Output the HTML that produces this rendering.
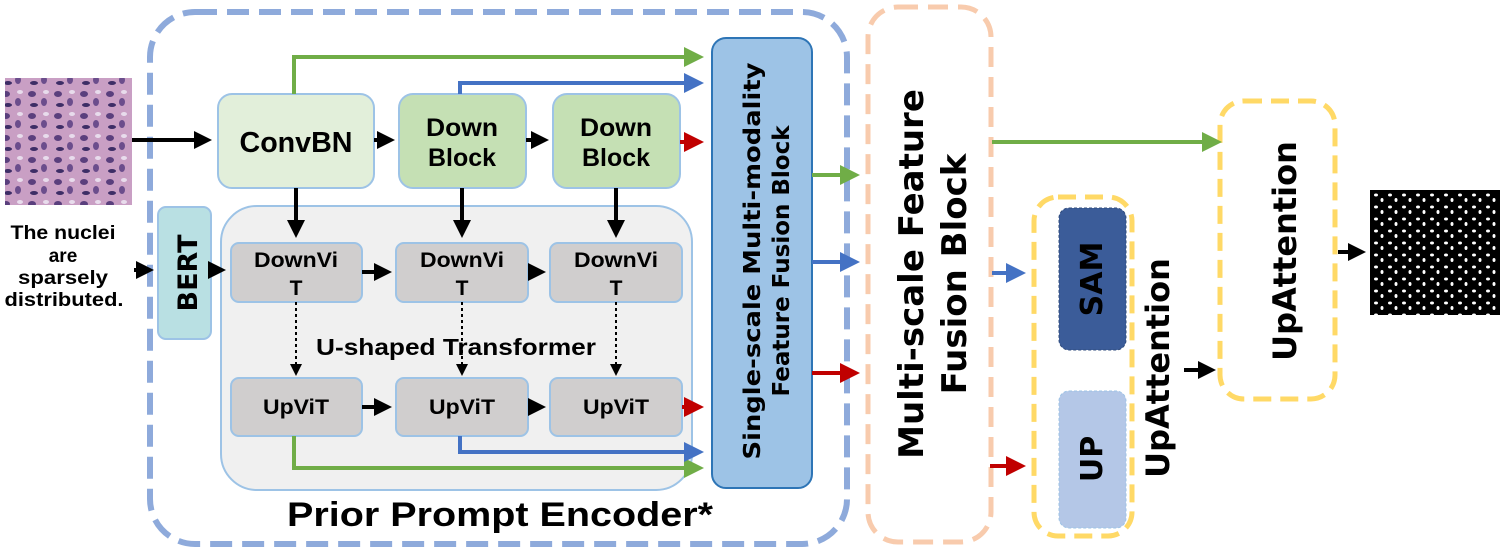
<!DOCTYPE html>
<html><head><meta charset="utf-8"><style>html,body{margin:0;padding:0;background:#fff}svg{display:block}</style></head><body>
<svg width="1504" height="558" viewBox="0 0 1504 558" xmlns="http://www.w3.org/2000/svg" font-family="'DejaVu Sans','Liberation Sans',sans-serif" font-weight="bold">
<defs>
<marker id="ak" markerWidth="4.5" markerHeight="4.5" refX="3.5" refY="2.25" orient="auto" markerUnits="strokeWidth"><path d="M0,0L4.5,2.25L0,4.5z" fill="#000"/></marker>
<marker id="ag" markerWidth="5" markerHeight="5" refX="4" refY="2.5" orient="auto" markerUnits="strokeWidth"><path d="M0,0L5,2.5L0,5z" fill="#70ad47"/></marker>
<marker id="ab" markerWidth="5" markerHeight="5" refX="4" refY="2.5" orient="auto" markerUnits="strokeWidth"><path d="M0,0L5,2.5L0,5z" fill="#4472c4"/></marker>
<marker id="ar" markerWidth="5" markerHeight="5" refX="4" refY="2.5" orient="auto" markerUnits="strokeWidth"><path d="M0,0L5,2.5L0,5z" fill="#c00000"/></marker>
<marker id="as" markerWidth="6" markerHeight="6" refX="4" refY="3" orient="auto" markerUnits="strokeWidth"><path d="M0,0L6,3L0,6z" fill="#000"/></marker>
<pattern id="tis" width="26" height="22" patternUnits="userSpaceOnUse"><rect width="26" height="22" fill="#c99fc4"/><ellipse cx="6" cy="6" rx="4" ry="3" fill="#5a3f7d"/><ellipse cx="18" cy="14" rx="3" ry="4" fill="#6b4d8c"/><ellipse cx="20" cy="4" rx="3" ry="2" fill="#e8dcec"/><ellipse cx="8" cy="17" rx="4" ry="2" fill="#3d2d66"/></pattern>
<pattern id="nuc" width="14" height="12" patternUnits="userSpaceOnUse"><rect width="14" height="12" fill="#000"/><ellipse cx="4" cy="3" rx="2" ry="1.5" fill="#fff"/><ellipse cx="10" cy="8" rx="1.5" ry="2" fill="#fff"/></pattern>
</defs>

<rect x="150" y="12" width="697" height="532" rx="45" fill="none" stroke="#8eaadb" stroke-width="6" stroke-dasharray="22,10"/>
<rect x="868" y="7" width="123" height="535" rx="30" fill="none" stroke="#f8cbad" stroke-width="5" stroke-dasharray="20,10"/>
<rect x="1034" y="197" width="98" height="339" rx="24" fill="none" stroke="#ffd966" stroke-width="5" stroke-dasharray="18,9"/>
<rect x="1220" y="101" width="115" height="298" rx="24" fill="none" stroke="#ffd966" stroke-width="5" stroke-dasharray="18,9"/>

<rect x="5" y="78" width="127" height="127" fill="url(#tis)"/>
<rect x="1370" y="190" width="130" height="125" fill="url(#nuc)"/>

<rect x="221" y="206" width="471" height="284" rx="36" fill="#f0f0f0" stroke="#9dc3e6" stroke-width="2"/>

<rect x="218" y="94" width="156" height="94" rx="14" fill="#e2efda" stroke="#9dc3e6" stroke-width="2"/>
<rect x="399" y="94" width="127" height="94" rx="14" fill="#c5e0b4" stroke="#9dc3e6" stroke-width="2"/>
<rect x="553" y="94" width="127" height="94" rx="14" fill="#c5e0b4" stroke="#9dc3e6" stroke-width="2"/>
<g font-family="'Liberation Sans',sans-serif" text-anchor="middle">
<text x="296" y="152" font-size="29" textLength="113" lengthAdjust="spacingAndGlyphs">ConvBN</text>
<text x="462" y="136" font-size="25" textLength="72" lengthAdjust="spacingAndGlyphs">Down</text>
<text x="462" y="166" font-size="25" textLength="68" lengthAdjust="spacingAndGlyphs">Block</text>
<text x="616" y="136" font-size="25" textLength="72" lengthAdjust="spacingAndGlyphs">Down</text>
<text x="616" y="166" font-size="25" textLength="68" lengthAdjust="spacingAndGlyphs">Block</text>
</g>

<rect x="158" y="207" width="53" height="132" rx="8" fill="#b9e0e3" stroke="#9dc3e6" stroke-width="2"/>
<text transform="translate(197,273) rotate(-90)" font-size="27" text-anchor="middle">BERT</text>

<g fill="#d0cece" stroke="#9dc3e6" stroke-width="2">
<rect x="231" y="243" width="131" height="59" rx="8"/><rect x="396" y="243" width="132" height="59" rx="8"/><rect x="550" y="243" width="132" height="59" rx="8"/>
<rect x="231" y="378" width="131" height="58" rx="8"/><rect x="396" y="378" width="132" height="58" rx="8"/><rect x="550" y="378" width="132" height="58" rx="8"/>
</g>
<g font-family="'Liberation Sans',sans-serif" font-size="21" text-anchor="middle">
<text x="296" y="267" textLength="84" lengthAdjust="spacingAndGlyphs">DownVi</text><text x="296" y="295">T</text>
<text x="462" y="267" textLength="84" lengthAdjust="spacingAndGlyphs">DownVi</text><text x="462" y="295">T</text>
<text x="616" y="267" textLength="84" lengthAdjust="spacingAndGlyphs">DownVi</text><text x="616" y="295">T</text>
<text x="296" y="414" textLength="66" lengthAdjust="spacingAndGlyphs">UpViT</text><text x="462" y="414" textLength="66" lengthAdjust="spacingAndGlyphs">UpViT</text><text x="616" y="414" textLength="66" lengthAdjust="spacingAndGlyphs">UpViT</text>
<text x="456" y="355" font-size="23" textLength="280" lengthAdjust="spacingAndGlyphs">U-shaped Transformer</text>
<text x="500" y="526" font-size="34" textLength="426" lengthAdjust="spacingAndGlyphs">Prior Prompt Encoder*</text>
<g font-size="19">
<text x="63" y="239" textLength="105" lengthAdjust="spacingAndGlyphs">The nuclei</text><text x="63" y="262">are</text><text x="63" y="284" textLength="90" lengthAdjust="spacingAndGlyphs">sparsely</text><text x="64" y="306" textLength="119" lengthAdjust="spacingAndGlyphs">distributed.</text>
</g>
</g>

<rect x="712" y="38" width="100" height="450" rx="14" fill="#9dc3e6" stroke="#2e75b6" stroke-width="2"/>
<text transform="translate(760,261) rotate(-90)" font-size="23" text-anchor="middle" textLength="397" lengthAdjust="spacingAndGlyphs">Single-scale Multi-modality</text>
<text transform="translate(789,261) rotate(-90)" font-size="23" text-anchor="middle">Feature Fusion Block</text>

<text transform="translate(923,274) rotate(-90)" font-size="34" text-anchor="middle">Multi-scale Feature</text>
<text transform="translate(966,274) rotate(-90)" font-size="34" text-anchor="middle">Fusion Block</text>

<rect x="1059" y="208" width="67" height="142" rx="10" fill="#3b5c99" stroke="#2f4b7c" stroke-width="1" stroke-dasharray="3,2"/>
<text transform="translate(1102,279) rotate(-90)" font-size="30" text-anchor="middle">SAM</text>
<rect x="1059" y="391" width="67" height="137" rx="10" fill="#b4c7e7" stroke="#9dc3e6" stroke-width="1" stroke-dasharray="3,2"/>
<text transform="translate(1102,459) rotate(-90)" font-size="30" text-anchor="middle">UP</text>
<text transform="translate(1169,368) rotate(-90)" font-size="32" text-anchor="middle">UpAttention</text>
<text transform="translate(1296,251) rotate(-90)" font-size="32" text-anchor="middle">UpAttention</text>

<g stroke="#000" stroke-width="4" fill="none" marker-end="url(#ak)">
<path d="M132,140H208"/><path d="M374,140H391"/><path d="M526,140H545"/>
<path d="M296,188V234"/><path d="M462,188V234"/><path d="M616,188V234"/>
<path d="M134,270H150"/><path d="M211,270H222"/>
<path d="M362,272H388"/><path d="M528,272H542"/>
<path d="M362,407H388"/><path d="M528,407H542"/>
<path d="M1184,370H1212"/><path d="M1338,252H1362"/>
</g>
<g stroke="#000" stroke-width="2" fill="none" stroke-dasharray="3,3" marker-end="url(#as)">
<path d="M296,302V372"/><path d="M462,302V372"/><path d="M616,302V372"/>
</g>
<g stroke="#70ad47" stroke-width="4" fill="none" marker-end="url(#ag)">
<path d="M294,94V57H700"/><path d="M294,436V468H700"/><path d="M812,175H856"/><path d="M992,142H1218"/>
</g>
<g stroke="#4472c4" stroke-width="4" fill="none" marker-end="url(#ab)">
<path d="M460,94V83H700"/><path d="M460,436V452H700"/><path d="M812,262H856"/><path d="M992,273H1022"/>
</g>
<g stroke="#c00000" stroke-width="4" fill="none" marker-end="url(#ar)">
<path d="M680,142H700"/><path d="M682,407H700"/><path d="M812,373H856"/><path d="M990,466H1022"/>
</g>
</svg>
</body></html>
